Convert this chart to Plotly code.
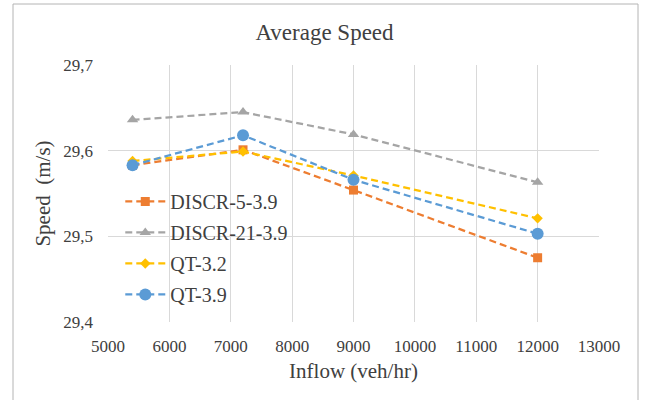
import plotly.graph_objects as go

inflow = [5400, 7200, 9000, 12000]
discr_5 = [29.583, 29.601, 29.554, 29.475]
discr_21 = [29.636, 29.645, 29.619, 29.563]
qt_32 = [29.588, 29.599, 29.571, 29.521]
qt_39 = [29.583, 29.618, 29.566, 29.503]

names = ["DISCR-5-3.9", "DISCR-21-3.9", "QT-3.2", "QT-3.9"]
colors = ["#ED7D31", "#A5A5A5", "#FFC000", "#5B9BD5"]
symbols = ["square", "triangle-up", "diamond", "circle"]
sizes = [9, 10, 8, 12]
series = [discr_5, discr_21, qt_32, qt_39]

FONT = "Liberation Serif"
TXT = "#404040"

fig = go.Figure()
for i, (nm, ys) in enumerate(zip(names, series)):
    fig.add_trace(go.Scatter(
        x=inflow, y=ys, name=nm, mode="lines+markers",
        line=dict(color=colors[i], width=2.25, dash="7px,4px"),
        marker=dict(symbol=symbols[i], size=sizes[i], color=colors[i],
                    line=dict(width=0)),
        legendgroup=nm,
    ))

fig.update_layout(
    width=649, height=400,
    margin=dict(l=108, r=50, t=65, b=78),
    paper_bgcolor="white", plot_bgcolor="white",
    separators=",.",
    font=dict(family=FONT, color=TXT),
    title=dict(text="Average Speed", x=0.5, xref="container", xanchor="center",
               y=1 - 32 / 400, yref="container", yanchor="middle",
               font=dict(size=23, color=TXT, family=FONT)),
    showlegend=True,
    legend=dict(x=0.025, y=0.545, xanchor="left", yanchor="top",
                bgcolor="rgba(0,0,0,0)", font=dict(size=20, color=TXT, family=FONT),
                itemwidth=40, tracegroupgap=2),
    xaxis=dict(range=[5000, 13000], dtick=1000, tick0=5000, tickformat="d",
               showgrid=True, gridcolor="#d9d9d9", gridwidth=1,
               zeroline=False, showline=False, ticks="",
               tickfont=dict(size=17, color=TXT, family=FONT),
               ticklabelstandoff=12,
               title=dict(text="Inflow (veh/hr)", font=dict(size=21, color=TXT, family=FONT), standoff=8)),
    yaxis=dict(range=[29.4, 29.7], dtick=0.1, tick0=29.4, tickformat=".1f",
               showgrid=True, gridcolor="#d9d9d9", gridwidth=1,
               zeroline=False, showline=False, ticks="",
               tickfont=dict(size=17, color=TXT, family=FONT),
               ticklabelstandoff=14,
               title=dict(text="Speed  (m/s)", font=dict(size=21, color=TXT, family=FONT), standoff=6)),
    shapes=[dict(type="rect", xref="paper", yref="paper",
                 x0=(13 - 108) / 491, x1=(638 - 108) / 491,
                 y0=(322 - 410) / 257, y1=(322 - 4) / 257,
                 line=dict(color="#b4b4b4", width=1), fillcolor="rgba(0,0,0,0)", layer="below")],
)

fig.write_html("out.html")
